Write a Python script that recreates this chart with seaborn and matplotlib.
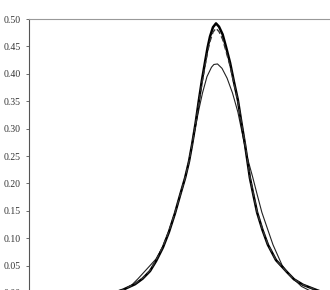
import numpy as np
import pandas as pd
import matplotlib
matplotlib.use("Agg")
import matplotlib.pyplot as plt
import seaborn as sns

# Curve data (x in arbitrary units, peak near 0)
thick_x = [-3.43, -3.1, -2.7, -2.45, -2.2, -2.0, -1.77, -1.57, -1.37, -1.2, -1.03, -0.9, -0.8,
           -0.68, -0.57, -0.47, -0.37, -0.28, -0.2, -0.1, 0.0, 0.1, 0.22, 0.33, 0.47, 0.6,
           0.73, 0.85, 0.97, 1.05, 1.13, 1.25, 1.37, 1.55, 1.73, 2.0, 2.37, 2.6, 2.9, 3.37, 3.63]
thick_y = [0.0, 0.006, 0.016, 0.026, 0.04, 0.058, 0.083, 0.111, 0.145, 0.178, 0.21, 0.24, 0.27,
           0.31, 0.352, 0.388, 0.42, 0.448, 0.468, 0.485, 0.492, 0.486, 0.472, 0.45, 0.42, 0.385,
           0.352, 0.31, 0.27, 0.24, 0.21, 0.178, 0.147, 0.115, 0.088, 0.06, 0.038, 0.025, 0.015, 0.005, 0.0]

dash_x = [-3.43, -3.1, -2.7, -2.45, -2.2, -2.0, -1.77, -1.57, -1.37, -1.2, -1.03, -0.9, -0.8,
          -0.68, -0.57, -0.47, -0.37, -0.28, -0.2, -0.1, 0.0, 0.1, 0.22, 0.33, 0.47, 0.6,
          0.73, 0.85, 0.97, 1.05, 1.13, 1.25, 1.37, 1.55, 1.73, 2.0, 2.37, 2.6, 2.9, 3.37, 3.63]
dash_y = [0.0, 0.006, 0.017, 0.027, 0.041, 0.06, 0.085, 0.113, 0.146, 0.178, 0.21, 0.24, 0.27,
          0.308, 0.348, 0.382, 0.413, 0.44, 0.459, 0.476, 0.483, 0.477, 0.463, 0.442, 0.414, 0.382,
          0.35, 0.31, 0.272, 0.243, 0.212, 0.18, 0.148, 0.116, 0.089, 0.06, 0.038, 0.025, 0.015, 0.005, 0.0]

thin_x = [-3.3, -3.0, -2.8, -2.6, -2.4, -2.2, -2.0, -1.77, -1.57, -1.37, -1.2, -1.03, -0.9, -0.8,
          -0.68, -0.57, -0.45, -0.3, -0.15, -0.07, 0.05, 0.2, 0.37, 0.55, 0.73, 0.9, 1.03,
          1.23, 1.38, 1.53, 1.73, 1.9, 2.2, 2.37, 2.6, 2.85, 3.1, 3.35]
thin_y = [0.002, 0.008, 0.015, 0.026, 0.038, 0.05, 0.062, 0.084, 0.112, 0.145, 0.178, 0.21, 0.24,
          0.27, 0.305, 0.335, 0.365, 0.395, 0.412, 0.417, 0.418, 0.41, 0.392, 0.365, 0.33, 0.285, 0.25,
          0.21, 0.178, 0.147, 0.115, 0.088, 0.051, 0.038, 0.025, 0.012, 0.005, 0.001]

yticks = [0.00, 0.05, 0.10, 0.15, 0.20, 0.25, 0.30, 0.35, 0.40, 0.45, 0.50]

sns.set_style("white")
plt.rcParams['font.family'] = ['Liberation Serif', 'DejaVu Serif']

fig = plt.figure(figsize=(3.3, 2.9), dpi=100)
ax = fig.add_axes([29/330, -3/290, 1 - 29/330, 0.9448])

sns.lineplot(x=thin_x, y=thin_y, ax=ax, color="#222222", lw=0.8, sort=False,
             solid_joinstyle='round')
sns.lineplot(x=thick_x, y=thick_y, ax=ax, color="#000000", lw=1.8, sort=False,
             solid_joinstyle='round')
sns.lineplot(x=dash_x, y=dash_y, ax=ax, color="#333333", lw=1.0, sort=False,
             linestyle=(0, (4, 2)))

ax.set_xlim(-6.233, 3.8)
ax.set_ylim(0, 0.5)
ax.set_yticks(yticks)
ax.set_yticklabels([f"{v:.2f}" for v in yticks], fontsize=7, color="#333333")
ax.set_xticks([])
ax.tick_params(axis='y', direction='out', length=2, width=0.6, color="#555555", pad=4, left=True)
ax.spines['right'].set_visible(False)
ax.spines['top'].set_color("#999999")
ax.spines['top'].set_linewidth(0.8)
ax.spines['left'].set_color("#555555")
ax.spines['left'].set_linewidth(0.8)
ax.spines['bottom'].set_color("#555555")

fig.savefig("out.png", dpi=100)
